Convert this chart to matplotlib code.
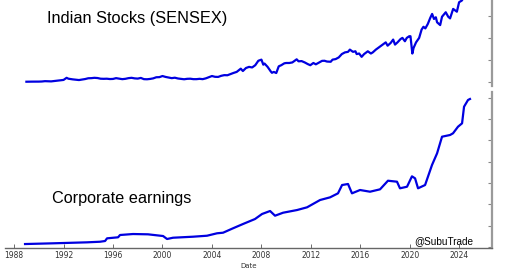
import numpy as np
import matplotlib
matplotlib.use('Agg')
import matplotlib.pyplot as plt

# SENSEX level (decimal year, index value)
sensex_year = [1989.00, 1989.25, 1989.50, 1989.75, 1990.00, 1990.25, 1990.50, 1990.75,
               1991.00, 1991.25, 1991.50, 1991.75, 1992.00, 1992.25, 1992.40, 1992.75,
               1993.00, 1993.25, 1993.50, 1993.75, 1994.00, 1994.25, 1994.50, 1994.75,
               1995.00, 1995.25, 1995.50, 1995.75, 1996.00, 1996.25, 1996.50, 1996.75,
               1997.00, 1997.25, 1997.50, 1997.75, 1998.00, 1998.25, 1998.50, 1998.75,
               1999.00, 1999.25, 1999.50, 1999.75, 2000.00, 2000.25, 2000.50, 2000.75,
               2001.00, 2001.25, 2001.50, 2001.75, 2002.00, 2002.25, 2002.50, 2002.75,
               2003.00, 2003.25, 2003.50, 2003.75, 2004.00, 2004.25, 2004.50, 2004.75,
               2005.00, 2005.25, 2005.50, 2005.75, 2006.00, 2006.33, 2006.50, 2006.75,
               2007.00, 2007.25, 2007.50, 2007.75, 2008.00, 2008.15, 2008.25, 2008.50,
               2008.75, 2008.85, 2009.00, 2009.20, 2009.40, 2009.60, 2009.85, 2010.00,
               2010.25, 2010.50, 2010.85, 2011.00, 2011.25, 2011.50, 2011.75, 2011.95,
               2012.20, 2012.40, 2012.60, 2012.90, 2013.10, 2013.30, 2013.60, 2013.75,
               2014.00, 2014.25, 2014.50, 2014.75, 2015.00, 2015.15, 2015.40, 2015.60,
               2015.70, 2015.90, 2016.10, 2016.30, 2016.60, 2016.85, 2017.00, 2017.25,
               2017.50, 2017.75, 2018.05, 2018.20, 2018.45, 2018.65, 2018.80, 2019.00,
               2019.25, 2019.40, 2019.60, 2019.75, 2019.95, 2020.05, 2020.20, 2020.30,
               2020.50, 2020.75, 2020.95, 2021.10, 2021.25, 2021.45, 2021.65, 2021.80,
               2021.95, 2022.10, 2022.20, 2022.45, 2022.60, 2022.90, 2023.10, 2023.25,
               2023.50, 2023.80, 2023.98, 2024.20, 2024.45, 2024.70, 2024.85]
sensex = [700, 750, 780, 750, 800, 900, 1200, 1100,
          1000, 1300, 1500, 1900, 2300, 4200, 3400, 2800,
          2500, 2200, 2600, 3100, 3800, 3900, 4200, 4000,
          3400, 3300, 3400, 3100, 3200, 3900, 3500, 3000,
          3300, 3900, 4200, 3700, 3500, 4100, 3000, 2900,
          3200, 3700, 4700, 4800, 5800, 5000, 4500, 3900,
          4300, 3600, 3300, 2900, 3300, 3400, 3000, 3000,
          3300, 3000, 3700, 4800, 5800, 5100, 5000, 6000,
          6600, 6500, 7600, 8600, 9500, 12400, 10300, 13000,
          14000, 13500, 15500, 19500, 20500, 16000, 17000, 14000,
          10000, 8700, 9500, 8500, 14500, 15500, 17200, 17500,
          17500, 18000, 20800, 19000, 19200, 18000, 16500, 15500,
          17500, 16300, 17500, 19400, 19500, 18800, 18600, 20500,
          21000, 22500, 25500, 27000, 27500, 29500, 27500, 28000,
          25500, 26000, 23000, 25500, 28000, 26000, 27000, 29500,
          31500, 33500, 36000, 33000, 35500, 38500, 34000, 36000,
          39000, 40000, 37000, 40000, 41500, 41500, 26000, 31000,
          36000, 40000, 47500, 50000, 48500, 52500, 58000, 61500,
          57000, 58500, 54000, 51500, 59000, 63000, 59000, 57500,
          66000, 63500, 72000, 73500, 78000, 85000, 79000]

# Corporate earnings (decimal year, EPS)
eps_year = [1988.89, 1991.15, 1993.90, 1994.95, 1995.36, 1995.52, 1996.41, 1996.57,
            1997.62, 1998.83, 2000.05, 2000.37, 2000.85, 2002.47, 2003.60, 2004.41,
            2004.90, 2005.70, 2006.51, 2007.48, 2008.05, 2008.70, 2009.10, 2009.75,
            2010.88, 2011.69, 2012.74, 2013.55, 2014.19, 2014.52, 2015.00, 2015.32,
            2015.97, 2016.78, 2017.59, 2018.23, 2018.96, 2019.20, 2019.77, 2020.17,
            2020.42, 2020.66, 2021.23, 2021.79, 2022.20, 2022.60, 2023.25, 2023.49,
            2023.89, 2024.22, 2024.38, 2024.70, 2024.86]
eps = [70, 87, 110, 124, 141, 204, 228, 282,
       305, 298, 258, 188, 218, 242, 265, 322,
       336, 439, 540, 657, 775, 845, 735, 805,
       868, 932, 1103, 1166, 1260, 1455, 1479, 1260,
       1338, 1298, 1354, 1556, 1533, 1378, 1415, 1659,
       1612, 1378, 1455, 1925, 2199, 2589, 2629, 2669,
       2823, 2903, 3293, 3450, 3474]

year_ticks = [1988, 1992, 1996, 2000, 2004, 2008, 2012, 2016, 2020, 2024]

W, H = 520, 272
fig = plt.figure(figsize=(W / 100, H / 100), dpi=100)

def px_axes(x0, y0, x1, y1):
    return fig.add_axes([x0 / W, 1 - y1 / H, (x1 - x0) / W, (y1 - y0) / H])

xlim = (1987.27, 2026.64)

ax1 = px_axes(5, 0, 492, 86)
ax2 = px_axes(5, 92, 492, 248)

ax1.plot(sensex_year, sensex, color='#0000e0', lw=1.6)
ax1.set_ylim(-3140, 74000)
ax1.set_yticks([0, 20000, 40000, 60000])
ax1.set_xticks([])

ax2.plot(eps_year, eps, color='#0000e0', lw=1.6)
ax2.set_ylim(-23, 3638)
ax2.set_yticks(np.arange(0, 3501, 500))
ax2.set_xticks(year_ticks)
ax2.set_xticklabels([str(y) for y in year_ticks])
ax2.set_xlabel('Date', fontsize=5, color='#333333', labelpad=2)

for ax in (ax1, ax2):
    ax.set_xlim(*xlim)
    ax.yaxis.tick_right()
    ax.tick_params(axis='y', direction='in', length=3, width=0.8, color='#888888',
                   labelright=False, labelleft=False)
    ax.tick_params(axis='x', direction='in', length=3, width=0.6, color='#555555',
                   labelsize=5.5, labelcolor='#333333', pad=2.5)
    for s in ('left', 'top'):
        ax.spines[s].set_visible(False)
    ax.spines['right'].set_color('#9a9a9a')
    ax.spines['right'].set_linewidth(1.6)

ax1.spines['bottom'].set_visible(False)
ax2.spines['bottom'].set_color('#666666')
ax2.spines['bottom'].set_linewidth(1.0)

font = 'Liberation Sans'
fig.text(137 / W, 1 - 18 / H, 'Indian Stocks (SENSEX)', fontsize=11.8, family=font,
         ha='center', va='center')
fig.text(122 / W, 1 - 198 / H, 'Corporate earnings', fontsize=11.7, family=font,
         ha='center', va='center')
fig.text(444 / W, 1 - 241 / H, '@SubuTrade', fontsize=7.2, family=font,
         ha='center', va='center')

fig.savefig('out.png', dpi=100)
